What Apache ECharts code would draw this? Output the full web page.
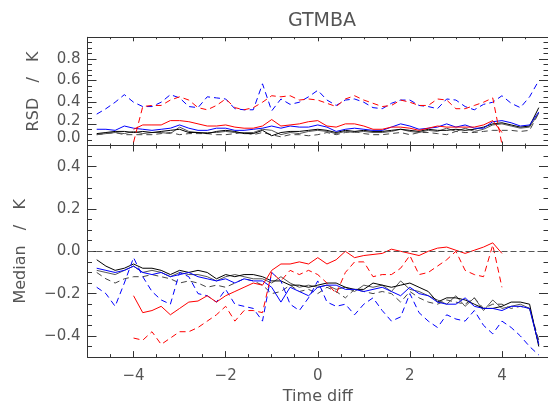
<!DOCTYPE html>
<html><head><meta charset="utf-8">
<script src="https://cdn.jsdelivr.net/npm/echarts@6/dist/echarts.min.js"></script>
<style>html,body{margin:0;padding:0;background:#fff}#c{width:548px;height:410px}</style>
</head><body><div id="c"></div>
<script>
// ---------- data ----------
const timeDiff = [-4.8,-4.6,-4.4,-4.2,-4.0,-3.8,-3.6,-3.4,-3.2,-3.0,-2.8,-2.6,-2.4,-2.2,-2.0,-1.8,-1.6,-1.4,-1.2,-1.0,-0.8,-0.6,-0.4,-0.2,0.0,0.2,0.4,0.6,0.8,1.0,1.2,1.4,1.6,1.8,2.0,2.2,2.4,2.6,2.8,3.0,3.2,3.4,3.6,3.8,4.0,4.2,4.4,4.6,4.8];

const rsdBlackSolid = [0.11,0.12,0.13,0.13,0.12,0.13,0.12,0.13,0.14,0.15, 0.12,0.12,0.11,0.13,0.14,0.13,0.11,0.11,0.14,0.09, 0.12,0.13,0.13,0.14,0.15,0.14,0.12,0.14,0.13,0.14, 0.13,0.13,0.14,0.15,0.14,0.13,0.15,0.14,0.14,0.15, 0.14,0.15,0.17,0.20,0.21,0.19,0.17,0.18,0.35];
const rsdGreySolid = [0.10,0.11,0.12,0.11,0.13,0.11,0.12,0.12,0.11,0.17, 0.13,0.12,0.12,0.12,0.13,0.12,0.12,0.12,0.15,0.14, 0.10,0.12,0.11,0.13,0.14,0.13,0.11,0.13,0.12,0.13, 0.12,0.12,0.13,0.15,0.13,0.12,0.14,0.13,0.16,0.13, 0.16,0.13,0.15,0.19,0.20,0.18,0.16,0.17,0.30];
const rsdGreyDash = [0.10,0.11,0.12,0.10,0.10,0.10,0.10,0.11,0.12,0.10, 0.11,0.11,0.11,0.10,0.10,0.11,0.12,0.10,0.12,0.10, 0.08,0.10,0.10,0.09,0.10,0.12,0.10,0.12,0.13,0.11, 0.10,0.10,0.11,0.12,0.10,0.12,0.12,0.11,0.10,0.13, 0.12,0.12,0.13,0.14,0.14,0.14,0.13,0.14,0.30];
const rsdBlueSolid = [0.15,0.15,0.14,0.18,0.16,0.15,0.14,0.15,0.16,0.19, 0.16,0.14,0.14,0.16,0.16,0.14,0.14,0.15,0.16,0.18, 0.16,0.18,0.17,0.17,0.19,0.17,0.13,0.15,0.16,0.15, 0.14,0.14,0.17,0.20,0.18,0.15,0.16,0.17,0.20,0.17, 0.19,0.16,0.16,0.22,0.23,0.21,0.18,0.19,0.31];
const rsdBlueDash = [0.29,0.34,0.40,0.47,0.40,0.36,0.36,0.40,0.47,0.44, 0.36,0.35,0.45,0.44,0.43,0.34,0.33,0.33,0.57,0.32, 0.43,0.38,0.40,0.45,0.51,0.42,0.37,0.42,0.43,0.40, 0.35,0.34,0.39,0.42,0.42,0.37,0.36,0.34,0.43,0.42, 0.36,0.33,0.38,0.40,0.46,0.39,0.35,0.45,0.60];
const rsdRedSolid = [null,null,null,null,0.15,0.19,0.19,0.19,0.23,0.23, 0.22,0.20,0.18,0.18,0.19,0.17,0.16,0.16,0.18,0.24, 0.18,0.19,0.20,0.22,0.23,0.18,0.17,0.20,0.20,0.18, 0.15,0.15,0.17,0.17,0.16,0.14,0.16,0.18,0.17,0.17, 0.17,0.17,0.19,0.23,0.12,null,null,null,null];
const rsdRedDash = [null,null,null,null,0.03,0.36,0.37,0.37,0.42,0.45, 0.42,0.35,0.33,0.37,0.43,0.35,0.33,0.35,0.40,0.46, 0.45,0.46,0.42,0.43,0.42,0.39,0.36,0.43,0.46,0.42, 0.39,0.36,0.37,0.42,0.40,0.37,0.37,0.43,0.42,0.34, 0.34,0.37,0.40,0.44,0.01,null,null,null,null];

const medBlackSolid = [-0.04,-0.07,-0.09,-0.08,-0.06,-0.08,-0.08,-0.09,-0.11,-0.09, -0.10,-0.09,-0.10,-0.13,-0.11,-0.12,-0.11,-0.11,-0.12,-0.14, -0.14,-0.16,-0.16,-0.17,-0.16,-0.15,-0.15,-0.17,-0.18,-0.18, -0.15,-0.16,-0.17,-0.16,-0.15,-0.17,-0.19,-0.24,-0.22,-0.22, -0.23,-0.25,-0.27,-0.27,-0.26,-0.24,-0.24,-0.25,-0.45];
const medGreySolid = [-0.09,-0.10,-0.11,-0.09,-0.07,-0.10,-0.09,-0.10,-0.12,-0.10, -0.11,-0.11,-0.12,-0.14,-0.12,-0.11,-0.12,-0.13,-0.13,-0.15, -0.12,-0.15,-0.17,-0.16,-0.17,-0.16,-0.18,-0.17,-0.19,-0.16, -0.17,-0.16,-0.19,-0.14,-0.18,-0.19,-0.21,-0.23,-0.25,-0.21, -0.26,-0.22,-0.28,-0.23,-0.27,-0.26,-0.25,-0.27,-0.44];
const medGreyDash = [-0.10,-0.13,-0.15,-0.13,-0.12,-0.12,-0.11,-0.12,-0.13,-0.15, -0.14,-0.15,-0.17,-0.16,-0.17,-0.15,-0.13,-0.14,-0.16,-0.20, -0.19,-0.16,-0.19,-0.18,-0.20,-0.17,-0.19,-0.22,-0.18,-0.19, -0.20,-0.19,-0.20,-0.24,-0.19,-0.22,-0.24,-0.25,-0.23,-0.24, -0.25,-0.22,-0.27,-0.25,-0.25,-0.27,-0.26,-0.27,-0.42];
const medBlueSolid = [-0.08,-0.09,-0.10,-0.09,-0.07,-0.10,-0.11,-0.10,-0.12,-0.11, -0.10,-0.12,-0.13,-0.14,-0.13,-0.15,-0.13,-0.14,-0.14,-0.17, -0.24,-0.17,-0.19,-0.21,-0.17,-0.16,-0.16,-0.18,-0.18,-0.19, -0.18,-0.17,-0.19,-0.21,-0.17,-0.20,-0.21,-0.24,-0.25,-0.25, -0.22,-0.26,-0.27,-0.27,-0.28,-0.26,-0.26,-0.27,-0.44];
const medBlueDash = [-0.17,-0.20,-0.26,-0.15,-0.03,-0.12,-0.19,-0.23,-0.25,-0.10, -0.12,-0.20,-0.21,-0.24,-0.18,-0.25,-0.26,-0.27,-0.33,-0.10, -0.14,-0.25,-0.28,-0.22,-0.14,-0.24,-0.26,-0.25,-0.30,-0.25, -0.22,-0.28,-0.33,-0.31,-0.20,-0.29,-0.33,-0.36,-0.30,-0.32, -0.33,-0.28,-0.35,-0.39,-0.33,-0.36,-0.40,-0.45,-0.49];
const medRedSolid = [null,null,null,null,-0.21,-0.29,-0.28,-0.26,-0.30,-0.27, -0.24,-0.235,-0.21,-0.24,-0.21,-0.19,-0.17,-0.15,-0.16,-0.09, -0.06,-0.06,-0.05,-0.06,-0.03,-0.06,-0.04,0.0,-0.03,-0.02, -0.015,-0.01,0.01,0.0,-0.01,-0.02,0.0,0.015,0.02,0.005, -0.01,0.005,0.02,0.04,-0.01,null,null,null,null];
const medRedDash = [null,null,null,null,-0.41,-0.42,-0.38,-0.44,-0.41,-0.38, -0.38,-0.36,-0.33,-0.30,-0.26,-0.33,-0.28,-0.28,-0.29,-0.10, -0.14,-0.09,-0.11,-0.09,-0.11,-0.15,-0.20,-0.10,-0.05,-0.05, -0.12,-0.11,-0.11,-0.08,-0.02,-0.11,-0.10,-0.07,-0.04,0.0, -0.09,-0.11,-0.12,0.03,-0.17,null,null,null,null];

const medianRef = 0;

// tick positions
const xMajor = [-4,-2,0,2,4];
const xMinor = [-4.5,-3.5,-3,-2.5,-1.5,-1,-0.5,0.5,1,1.5,2.5,3,3.5,4.5];
const rsdMajor = [0,0.2,0.4,0.6,0.8,1.0];
const rsdLabels = [0,0.2,0.4,0.6,0.8];
const rsdMinor = [0.05,0.1,0.15,0.25,0.3,0.35,0.45,0.5,0.55,0.65,0.7,0.75,0.85,0.9,0.95];
const medMajor = [-0.4,-0.2,0,0.2,0.4];
const medMinor = [-0.45,-0.35,-0.3,-0.25,-0.15,-0.1,-0.05,0.05,0.1,0.15,0.25,0.3,0.35,0.45];

// ---------- chart ----------
const FONT = 'DejaVu Sans';
const TXT = '#555';
const AX = '#333';
const fmtNum = v => { const s = Math.abs(v) < 1e-9 ? '0.0' : v.toFixed(1); return s.replace('-', '\u2212'); };
const fmtInt = v => String(Math.round(v)).replace('-', '\u2212');

function pts(vals){ const out=[]; vals.forEach((v,i)=>{ if(v!==null) out.push([timeDiff[i], v]); }); return out; }

function edgeAxes(gridIndex, position, min, max, majors, minors, len, label, extra){
  const common = {type:'value', gridIndex, position, min, max, splitLine:{show:false}, minorTick:{show:false}, minorSplitLine:{show:false}, silent:true};
  const a = Object.assign({}, common, {
    axisLine:{show:true,onZero:false,lineStyle:{color:AX,width:1}},
    axisTick:{show:true,inside:true,length:len,customValues:majors,lineStyle:{color:AX,width:1}},
    axisLabel: label ? Object.assign({show:true, customValues: label.values}, label.style) : {show:false}
  }, extra || {});
  const b = Object.assign({}, common, {
    axisLine:{show:false,onZero:false},
    axisTick:{show:true,inside:true,length:len/2,customValues:minors,lineStyle:{color:AX,width:1}},
    axisLabel:{show:false}
  });
  return [a,b];
}

const labStyle = {color:TXT, fontFamily:FONT, fontSize:15};

const xAxes = [].concat(
  edgeAxes(0,'bottom',-5,5,xMajor,xMinor,4,null),
  edgeAxes(0,'top',-5,5,xMajor,xMinor,4,null),
  edgeAxes(1,'bottom',-5,5,xMajor,xMinor,6,{values:xMajor, style:Object.assign({margin:12, formatter:fmtInt}, labStyle)},
    {name:'Time diff', nameLocation:'middle', nameGap:28, nameTextStyle:{color:TXT, fontFamily:FONT, fontSize:16}}),
  edgeAxes(1,'top',-5,5,xMajor,xMinor,6,null)
);

const yAxes = [].concat(
  edgeAxes(0,'left',0,1,rsdMajor,rsdMinor,9,{values:rsdLabels, style:Object.assign({margin:7,
      formatter: v => { const s = fmtNum(v); if (Math.abs(v) < 1e-9) return '{z|'+s+'}'; if (Math.abs(v-0.2) < 1e-9) return '{t|'+s+'}'; return s; },
      rich:{ z:{color:TXT,fontFamily:FONT,fontSize:15,padding:[0,0,14,0]}, t:{color:TXT,fontFamily:FONT,fontSize:15,padding:[0,0,6,0]} } }, labStyle)},
    {name:'RSD   /   K', nameLocation:'middle', nameGap:46, nameTextStyle:{color:TXT, fontFamily:FONT, fontSize:16}}),
  edgeAxes(0,'right',0,1,rsdMajor,rsdMinor,9,null),
  edgeAxes(1,'left',-0.5,0.5,medMajor,medMinor,9,{values:medMajor, style:Object.assign({margin:7, formatter:fmtNum}, labStyle)},
    {name:'Median   /   K', nameLocation:'middle', nameGap:59, nameTextStyle:{color:TXT, fontFamily:FONT, fontSize:16}}),
  edgeAxes(1,'right',-0.5,0.5,medMajor,medMinor,9,null)
);

function line(vals, color, dashed, panel){
  return {type:'line', xAxisIndex: panel===0?0:4, yAxisIndex: panel===0?0:4, data:pts(vals),
    symbol:'none', animation:false, silent:true, clip:true,
    lineStyle:{color, width:1, type: dashed ? [6,4] : 'solid'}};
}

const series = [
  line(rsdGreyDash,'#444',true,0),
  line(rsdGreySolid,'#555',false,0),
  line(rsdBlackSolid,'#000',false,0),
  line(rsdBlueDash,'#0000ff',true,0),
  line(rsdBlueSolid,'#0000ff',false,0),
  line(rsdRedDash,'#ff0000',true,0),
  line(rsdRedSolid,'#ff0000',false,0),
  line(medGreyDash,'#444',true,1),
  line(medGreySolid,'#555',false,1),
  line(medBlackSolid,'#000',false,1),
  line(medBlueDash,'#0000ff',true,1),
  line(medBlueSolid,'#0000ff',false,1),
  line(medRedDash,'#ff0000',true,1),
  line(medRedSolid,'#ff0000',false,1)
];
series[7].markLine = {silent:true, symbol:'none', animation:false, label:{show:false},
  lineStyle:{color:'#555', width:1, type:[6,3]}, data:[{yAxis: medianRef}]};

const chart = echarts.init(document.getElementById('c'), null, {renderer:'canvas'});
chart.setOption({
  backgroundColor:'#fff',
  animation:false,
  grid:[
    {left:87.5, top:37.3, width:467.5, height:108.2},
    {left:87.5, top:145.5, width:467.5, height:215}
  ],
  xAxis:xAxes,
  yAxis:yAxes,
  series,
  graphic:[{type:'text', x:322, y:21, silent:true,
    style:{text:'GTMBA', fill:TXT, font:'19px "DejaVu Sans"', textAlign:'center', textVerticalAlign:'middle'}}]
});
</script></body></html>
